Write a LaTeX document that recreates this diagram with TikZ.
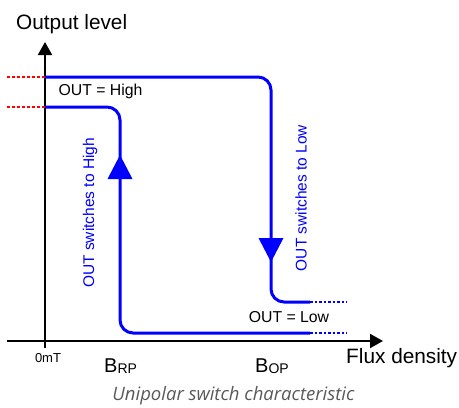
\documentclass[tikz,border=0pt]{standalone}
\usepackage{fontspec}
\setmainfont{Liberation Sans}
\newfontfamily\capfont{Open Sans}
\usetikzlibrary{arrows.meta}
\definecolor{pblue}{RGB}{0,0,255}
\definecolor{capgray}{RGB}{89,89,89}
\tikzset{
  axisline/.style={line width=2pt, draw=black, -{Triangle[length=13pt,width=14pt]}},
  refdash/.style={draw=red, line width=1.2pt, dash pattern=on 3pt off 2pt},
  curve/.style={draw=pblue, line width=3pt, rounded corners=13pt},
  bluedots/.style={draw=pblue, line width=1.5pt, dash pattern=on 2.5pt off 2pt},
  dirtip/.style={fill=pblue, draw=none},
  lbl/.style={font=\fontsize{15.8}{17}\selectfont, inner sep=0pt},
  vlbl/.style={font=\fontsize{15.5}{17}\selectfont, text=pblue, rotate=90, inner sep=0pt},
  big/.style={font=\fontsize{20.8}{22}\selectfont, inner sep=0pt}
}
\begin{document}
\begin{tikzpicture}[x=1pt,y=-1pt]
\useasboundingbox (0,0) rectangle (459,408);
% coordinates
\coordinate (origin) at (45,341);
\coordinate (ybot) at (45,348);
\coordinate (ytop) at (45,42);
\coordinate (xleft) at (7,341);
\coordinate (xright) at (383,341);
% axes
\draw[axisline] (ybot) -- (ytop);
\draw[axisline] (xleft) -- (xright);
% red reference dashes
\draw[refdash] (7,77) -- (45,77);
\draw[refdash] (7,107) -- (45,107);
% characteristic curves
\coordinate (hiA) at (45,77);
\coordinate (hiB) at (271,77);
\coordinate (hiC) at (271,302);
\coordinate (hiD) at (310,302);
\coordinate (hiE) at (347,302);
\coordinate (loA) at (45,107);
\coordinate (loB) at (120,107);
\coordinate (loC) at (120,333);
\coordinate (loD) at (310,333);
\coordinate (loE) at (347,333);
\draw[curve] (hiA) -- (hiB) -- (hiC) -- (hiD);
\draw[curve] (loA) -- (loB) -- (loC) -- (loD);
\draw[bluedots] (hiD) -- (hiE);
\draw[bluedots] (loD) -- (loE);
% direction arrows
\fill[dirtip] (120,155) -- (132.5,179) -- (107.5,179) -- cycle;
\fill[dirtip] (271,262) -- (258.5,238) -- (283.5,238) -- cycle;
% labels
\node[big, anchor=base west] (ylab) at (16,29) {Output level};
\node[big, anchor=base west] (xlab) at (346,363) {Flux density};
\node[lbl] (high) at (100.5,91) {OUT = High};
\node[lbl] (low) at (289,317) {OUT = Low};
\node[font=\fontsize{13}{15}\selectfont, inner sep=0pt] (zero) at (48,358) {0mT};
\node[anchor=base west, inner sep=0pt] (brp) at (104,372) {\fontsize{20}{22}\selectfont B\raisebox{-1.5pt}{\fontsize{14}{16}\selectfont RP}};
\node[anchor=base west, inner sep=0pt] (bop) at (255,372) {\fontsize{20}{22}\selectfont B\raisebox{-1.5pt}{\fontsize{14}{16}\selectfont OP}};
\node[vlbl] (tohigh) at (90,213) {OUT switches to High};
\node[vlbl] (tolow) at (301,198) {OUT switches to Low};
\node[font=\capfont\itshape\fontsize{18.5}{20}\selectfont, text=capgray, inner sep=0pt] (cap) at (233.5,395.5) {Unipolar switch characteristic};
\end{tikzpicture}
\end{document}
